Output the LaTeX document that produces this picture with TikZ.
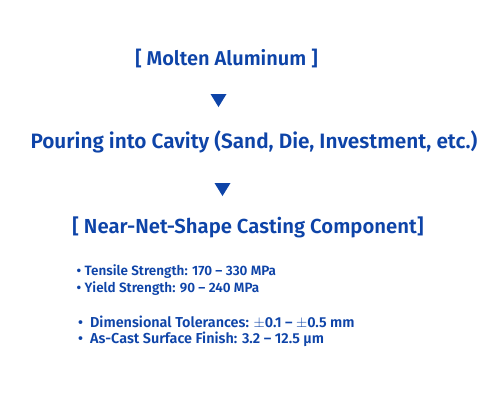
\documentclass[tikz,border=0pt]{standalone}
\usepackage{fontspec}
\setmainfont{Fira Sans}[BoldFont={Fira Sans SemiBold}]
\definecolor{ttblue}{RGB}{14,68,168}
\newcommand{\pmsign}{\ensuremath{\pm}}
\begin{document}
\begin{tikzpicture}[x=1pt,y=-1pt,
  title/.style={text=ttblue,font=\bfseries\fontsize{20}{24}\selectfont,inner sep=0pt,anchor=base},
  item/.style={text=ttblue,font=\bfseries\fontsize{13.5}{16}\selectfont,inner sep=0pt,anchor=base west},
  itemb/.style={item,font=\bfseries\fontsize{14.4}{16}\selectfont},
  tri/.style={fill=ttblue}]
\useasboundingbox (0,0) rectangle (495,400);
\node[title] (molten) at (226.5,65) {[ Molten Aluminum ]};
\node[title,font=\bfseries\fontsize{20.8}{24}\selectfont] (pour) at (254,148) {Pouring into Cavity (Sand, Die, Investment, etc.)};
\node[title,font=\bfseries\fontsize{20.3}{24}\selectfont] (comp) at (248,233) {[ Near-Net-Shape Casting Component]};
\fill[tri] (210.5,94) -- (226.5,94) -- (218.5,107) -- cycle;
\fill[tri] (214.5,183) -- (230.5,183) -- (222.5,196) -- cycle;
\node[item] (b1) at (76.5,275) {• Tensile Strength: 170 – 330 MPa};
\node[item] (b2) at (76.5,292) {• Yield Strength: 90 – 240 MPa};
\node[itemb] (b3) at (78,327) {•\ \ Dimensional Tolerances: \pmsign0.1 – \pmsign0.5 mm};
\node[itemb] (b4) at (78,343.5) {•\ \ As-Cast Surface Finish: 3.2 – 12.5 µm};
\end{tikzpicture}
\end{document}
